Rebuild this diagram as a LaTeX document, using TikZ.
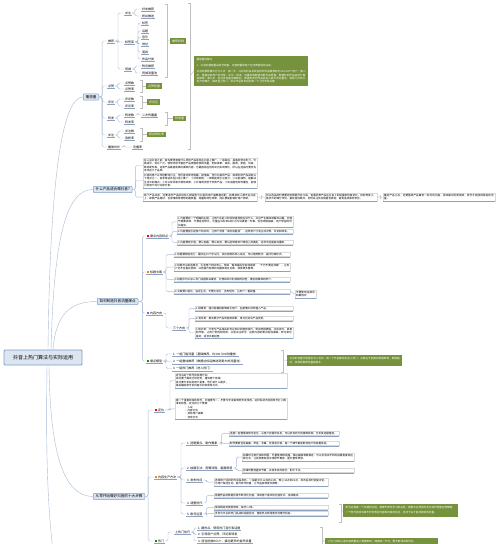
\documentclass[tikz,border=0pt]{standalone}
\usepackage{fontspec}
\setmainfont{Noto Sans CJK SC}
\XeTeXlinebreaklocale "zh"
\XeTeXlinebreakskip=0pt plus 1pt
\definecolor{lnk}{HTML}{A9BBD3}
\definecolor{tfill}{HTML}{DCE6F2}
\definecolor{tdraw}{HTML}{7F9DC6}
\definecolor{gboxc}{HTML}{76923C}
\definecolor{uline}{HTML}{8EA2BF}
\newcommand{\ico}[1]{\textcolor{#1}{\rule{2.2pt}{2.2pt}}\hspace{0.8pt}}
\newcommand{\lk}[3][3]{\draw[link] (#2.east) -- ++(#1,0) |- (#3.west);}
\newcommand{\mybrak}[4]{\draw[brk] ({#1-2},#2) -- (#1,#2) -- (#1,#3) -- ({#1-2},#3); \draw[brk] (#1,{(#2+#3)/2}) -- (#4.west);}
\tikzset{
 root/.style={draw=tdraw, line width=0.9pt, fill=tfill, rounded corners=1pt, font=\fontsize{5}{6}\selectfont, minimum width=78pt, minimum height=15pt, inner sep=0pt},
 topic/.style={draw=tdraw, line width=0.5pt, fill=tfill, rounded corners=0.8pt, font=\fontsize{3.6}{4}\selectfont, inner xsep=2.4pt, inner ysep=1.4pt, anchor=west},
 lbl/.style={font=\fontsize{3}{3.4}\selectfont, inner xsep=0.8pt, inner ysep=0.6pt, anchor=west, append after command={(\tikzlastnode.south west) edge[draw=uline, line width=0.3pt] (\tikzlastnode.south east)}},
 tbox/.style={draw=black!15, line width=0.3pt, font=\fontsize{2.6}{3.4}\selectfont, inner sep=1pt, anchor=north west, align=left, text width=#1, append after command={(\tikzlastnode.south west) edge[draw=uline, line width=0.5pt] (\tikzlastnode.south east)}},
 gb/.style={fill=gboxc, text=white, font=\fontsize{3}{3.4}\selectfont, inner xsep=1.8pt, inner ysep=1.3pt, anchor=west},
 gbig/.style={fill=gboxc, text=white, font=\fontsize{2.6}{3.4}\selectfont, inner sep=2.5pt, anchor=north west, align=left, text width=#1},
 link/.style={draw=lnk, line width=0.4pt, rounded corners=1.5pt},
 brk/.style={draw=black!25, line width=0.4pt},
}
\begin{document}
\begin{tikzpicture}[x=1pt,y=-1pt]
\useasboundingbox (0,0) rectangle (500,544);
\clip (0,0) rectangle (500,544);
\fill[white] (0,0) rectangle (500,544);

% ---------- root and main branches
\node[root] (root) at (43,357.5) {抖音上热门算法与实际运用};
\node[topic] (b1) at (83,97) {播放量};
\node[topic] (b2) at (93,189.5) {什么产品适合做抖音?};
\node[topic] (b3) at (97,301.5) {如何制造抖音流量爆点};
\node[topic] (b4) at (93,496.5) {从零开始做好抖音的十大步骤};
\coordinate (offb) at (60,600);

\draw[link] ([xshift=5pt]root.north) .. controls (50,180) and (62,97) .. (b1.west);
\draw[link] ([xshift=8pt]root.north) .. controls (54,230) and (68,189.5) .. (b2.west);
\draw[link] ([xshift=10pt]root.north) .. controls (56,312) and (72,301.5) .. (b3.west);
\draw[link] ([xshift=6pt]root.south) .. controls (50,460) and (66,496.5) .. (b4.west);
\draw[link] ([xshift=4pt]root.south) .. controls (46,450) and (46,520) .. (offb);

% ---------- branch 1: 播放量
\node[lbl] (r1) at (107,41) {推荐};
\node[lbl] (r2) at (107,86) {点赞};
\node[lbl] (r3) at (107,102) {评论};
\node[lbl] (r4) at (107,118) {转发};
\node[lbl] (r5) at (107,135) {关注};
\node[lbl] (r6) at (107,147) {播放时长};
\foreach \c in {r1,r2,r3,r4,r5,r6} {\lk{b1}{\c}}

\node[lbl] (r11) at (124,13) {关注};
\node[lbl] (r12) at (124,42) {标签库};
\node[lbl] (r13) at (124,69) {同城};
\foreach \c in {r11,r12,r13} {\lk{r1}{\c}}
\node[lbl] (r111) at (141,9) {好友推荐};
\node[lbl] (r112) at (141,16) {粉丝推送};
\foreach \c in {r111,r112} {\lk{r11}{\c}}
\node[lbl] (r121) at (141,23) {标签};
\node[lbl] (r122) at (141,31) {话题};
\node[lbl] (r123) at (141,37) {音乐};
\node[lbl] (r124) at (141,44) {地址};
\node[lbl] (r125) at (141,52) {道具};
\node[lbl] (r126) at (141,59) {作品分类};
\foreach \c in {r121,r122,r123,r124,r125,r126} {\lk{r12}{\c}}
\node[lbl] (r131) at (141,66) {附近推荐};
\node[lbl] (r132) at (141,73) {同城流量池};
\foreach \c in {r131,r132} {\lk{r13}{\c}}
\node[gb] (g1) at (170,41) {推荐机制};
\mybrak{167}{4}{77}{g1}

\node[lbl] (r21) at (124,83) {点赞数};
\node[lbl] (r22) at (124,89) {点赞率};
\foreach \c in {r21,r22} {\lk{r2}{\c}}
\node[gb] (g2) at (146,86) {点赞权重};
\mybrak{142}{80}{92}{g2}

\node[lbl] (r31) at (124,99) {评论数};
\node[lbl] (r32) at (124,106) {评论率};
\foreach \c in {r31,r32} {\lk{r3}{\c}}
\node[gb] (g3) at (147,102) {评论区};
\mybrak{142}{96}{108}{g3}

\node[lbl] (r41) at (124,115) {转发数};
\node[lbl] (r42) at (124,122) {转发率};
\foreach \c in {r41,r42} {\lk{r4}{\c}}
\node[lbl] (r411) at (141,115) {二次传播量};
\lk{r41}{r411}
\node[gb] (g4) at (173,118.5) {转发量};
\mybrak{167}{112}{125}{g4}

\node[lbl] (r51) at (124,131) {关注数};
\node[lbl] (r52) at (124,138) {涨粉率};
\foreach \c in {r51,r52} {\lk{r5}{\c}}
\node[gb] (g5) at (147,134.5) {粉丝转化率};
\mybrak{142}{128}{141}{g5}

\node[lbl] (r61) at (132,147) {完播率};
\lk{r6}{r61}

\node[gbig=109] (g6) at (194,56) {播放量的算法\\[2.5pt]
1、抖音的播放量由账号权重、内容质量和用户互动数据综合决定。\\[2.5pt]
抖音的推荐算法分为三步：第一步，冷启动阶段系统会把新作品推荐给约300-500个用户；第二步，根据这批用户的点赞、评论、转发、完播率等数据判断作品质量，数据好的作品会进行叠加推荐；第三步，经过多轮叠加推荐后，数据优秀的作品会进入更大的流量池，获得几万到几百万的曝光，最终登上热门。所以作品发布后的第一个小时非常关键。};
\mybrak{190}{3}{149}{g6}

% ---------- branch 2
\node[tbox=112] (c1) at (143,158) {在入驻抖音之前，首先要弄清楚什么样的产品适合在抖音上推广。一般来说，具备视觉冲击力、价格适中、受众广泛、使用场景丰富的产品更容易获得流量，例如美食、美妆、服装、家居、玩具、数码配件等，这类产品最容易做出爆款内容，也最容易在短时间内实现转化，所以在选品时要优先考虑这几个品类。};
\node[tbox=112] (c2) at (143,173) {抖音的用户以年轻群体为主，他们喜欢新奇有趣、颜值高、性价比高的产品。如果你的产品具有以下特点之一，就非常适合在抖音上推广：①外观新颖，一眼就能吸引注意力；②功能独特，能解决生活中的痛点；③可以现场演示使用效果；④价格明显低于同类产品；⑤有话题性和传播性，能够引发用户的讨论和分享。};
\node[tbox=112] (c3) at (143,193) {除了产品本身，还要考虑产品的目标人群是否与抖音的用户画像相匹配。如果目标人群不在抖音上，即使产品再好，也很难获得理想的播放量、销量和转化效果，因此要提前做好用户调研。};
\node[tbox=110] (c4) at (265,193) {所以选品的时候要结合数据分析工具，查看同类产品在抖音上的销量和热度变化，找到竞争小、需求大的细分市场，避免盲目跟风，同时关注供应链是否稳定，避免造成库存积压。};
\node[tbox=110] (c5) at (383,193) {确定产品之后，还要围绕产品策划一系列的内容，持续输出优质视频，账号才能获得稳定的流量。};
\foreach \c in {c1,c2,c3} {\lk{b2}{\c}}
\lk[4]{c3}{c4}
\lk[3]{c4}{c5}

% ---------- branch 3
\node[lbl] (l31) at (146,236) {\ico{red}爆点内容特点};
\node[lbl] (l32) at (146,272) {\ico{orange}标题文案};
\node[lbl] (l33) at (146,313) {\ico{blue!60}内容方向};
\node[lbl] (l34) at (146,361) {\ico{green!60!black}爆点模型};
\foreach \c in {l31,l32,l33,l34} {\lk[4]{b3}{\c}}

\node[tbox=114] (a1) at (177,216) {1.内容要有一个明确的主题，让用户在前三秒就知道视频在讲什么，并且产生继续观看的兴趣。内容节奏要紧凑，不要拖泥带水，尽量在15秒到60秒之内讲清楚一件事，信息密度越高，用户停留的时间越长。};
\node[tbox=114] (a2) at (177,229) {2.内容要能引起用户的共鸣，让用户觉得“说的就是我”，这样用户才会主动点赞、评论和转发。};
\node[tbox=114] (a3) at (177,240) {3.内容要有价值，要么有趣，要么有用，要么能带给用户情感上的满足，这样才能提高完播率。};
\foreach \c in {a1,a2,a3} {\lk{l31}{\c}}

\node[tbox=114] (bb1) at (174,252) {1.标题要简短有力，最好在15个字以内，突出视频的核心亮点，可以使用数字、疑问句等形式。};
\node[tbox=114] (bb2) at (174,263) {2.标题可以制造悬念，引发用户的好奇心，例如“看到最后你会感谢我”“千万不要这样做”，让用户忍不住看完视频，从而提升视频的完播率和互动率，获得更多推荐。};
\node[tbox=114] (bb3) at (174,277) {3.标题中可以加入热门话题和关键词，方便系统识别视频的标签，推送给精准的用户。};
\node[tbox=114] (bb4) at (174,289) {4.文案要口语化，贴近生活，不要太官方，多用短句，让用户一看就懂。};
\foreach \c in {bb1,bb2,bb3,bb4} {\lk{l32}{\c}}
\node[tbox=19] (bb5) at (295,290) {不要使用违规词和敏感词};
\draw[link] (bb4.east) -- (bb5.west);

\node[lbl] (l331) at (172,328) {三个方向};
\lk{l33}{l331}
\node[tbox=96] (cc1) at (195,306) {1.剧情类：通过有趣的剧情吸引用户，在剧情中自然植入产品。};
\node[tbox=96] (cc2) at (195,316) {2.测评类：真实展示产品的使用效果，用对比突出产品优势。};
\node[tbox=96] (cc3) at (195,327) {3.知识类：分享与产品相关的专业知识和使用技巧，例如穿搭教程、化妆技巧、美食制作等，让用户觉得有收获，从而关注账号。这类内容的粉丝粘性最高，转化率也最好，适合长期运营。};
\foreach \c in {cc1,cc2,cc3} {\lk{l331}{\c}}

\node[lbl] (m1) at (172,354) {1. 一组门槛流量（基础推荐，约300-500次播放）};
\node[lbl] (m2) at (172,361.5) {2. 一组叠加推荐（数据达标后推送到更大的流量池）};
\node[lbl] (m3) at (172,368.5) {3. 一组热门推荐（进入热门）};
\foreach \c in {m1,m2,m3} {\lk{l34}{\c}}
\node[gbig=110] (g7) at (287,355) {抖音的流量分配是去中心化的，每一个作品都有机会上热门，关键在于前期的数据表现，数据越好，获得的推荐流量就越多。};
\mybrak{283}{350}{372}{g7}

% ---------- branch 4
\node[lbl] (l41) at (154,410) {\ico{red}定位};
\node[lbl] (l42) at (154,477) {\ico{orange}内容生产方法};
\node[lbl] (l43) at (154,541) {\ico{green!60!black}热门};
\foreach \c in {l41,l42,l43} {\lk{b4}{\c}}

\node[tbox=110] (d1) at (175,373) {定位决定了账号的发展方向。\\首先要了解自己的优势，擅长哪个领域；\\其次要分析目标用户是谁，他们有什么需求；\\最后确定账号的内容方向和变现方式。};
\node[tbox=110] (d2) at (175,398) {做一个垂直领域的账号，内容要专一，不要今天发美食明天发旅游，这样系统才能给账号打上精准的标签。定位的几个要素：\\
\hspace*{8pt}• 人设\\\hspace*{8pt}• 内容方向\\\hspace*{8pt}• 目标用户画像\\\hspace*{8pt}• 变现方式\\[2pt]};
\foreach \c in {d1,d2} {\lk[5]{l41}{\c}}

\node[lbl] (s1) at (186,443) {1. 选题要点、制作要素};
\node[lbl] (s2) at (186,468) {2. 拍摄手法、剪辑流程、画面质感};
\node[lbl] (s3) at (186,480) {3. 发布时间};
\node[lbl] (s4) at (186,503) {4. 调整迭代};
\node[lbl] (s5) at (186,514) {5. 账号运营};
\foreach \c in {s1,s2,s3,s4,s5} {\lk[4]{l42}{\c}}

\node[tbox=108] (e1) at (229,431) {选题一定要围绕账号定位，从用户的需求出发，可以参考同行的爆款视频，分析其选题角度。};
\node[tbox=108] (e2) at (229,441) {制作要素包括画面、声音、字幕、背景音乐等，每一个细节都会影响用户的观看体验。};
\foreach \c in {e1,e2} {\lk{s1}{\c}}
\node[tbox=110] (f1) at (242,453) {拍摄时注意光线和构图，尽量使用稳定器，保证画面清晰稳定。可以多尝试不同的拍摄角度和运镜方式，让视频更有层次感和节奏感，提升整体质感。};
\node[tbox=110] (f2) at (242,468) {剪辑时要把握好节奏，去掉多余的部分，配乐卡点。};
\foreach \c in {f1,f2} {\lk{s2}{\c}}
\node[tbox=112] (h1) at (214,478) {选择用户活跃的时间段发布，一般是中午12点到13点，晚上18点到22点，发布后及时回复评论，与用户保持互动，提升账号权重，让作品获得更多推荐。};
\lk{s3}{h1}
\node[tbox=112] (h2) at (214,493) {根据作品的数据反馈不断优化内容，找到用户喜欢的内容形式，持续输出。};
\lk{s4}{h2}
\node[tbox=112] (i1) at (214,505) {保持稳定的更新频率，每天1-2条。};
\node[tbox=112] (i2) at (214,511) {多参与平台的热门挑战和话题活动，借助热点获得更多的曝光机会。};
\foreach \c in {i1,i2} {\lk{s5}{\c}}
\node[gbig=110] (g8) at (343,503.5) {账号运营是一个长期的过程，需要不断地学习和总结，根据平台规则的变化及时调整运营策略。\\[2pt]一个账号的成长离不开优质的内容和持续的互动，坚持下去才能持续获得流量。};
\mybrak{341}{504}{522}{g8}

\node[lbl] (t1) at (174,532) {上热门技巧};
\lk{l43}{t1}
\node[lbl] (t11) at (197,528) {1. 蹭热点、使用热门音乐和话题};
\node[lbl] (t12) at (197,534.5) {2. 引导用户点赞、评论和转发};
\node[lbl] (t13) at (197,541) {3. 适当投放DOU+，撬动更多的自然流量};
\foreach \c in {t11,t12,t13} {\lk{t1}{\c}}
\node[gbig=108] (g9) at (325,538) {上热门的核心是内容质量加上数据表现，两者缺一不可，要不断测试和优化。};
\mybrak{322}{527}{552}{g9}
\end{tikzpicture}
\end{document}
